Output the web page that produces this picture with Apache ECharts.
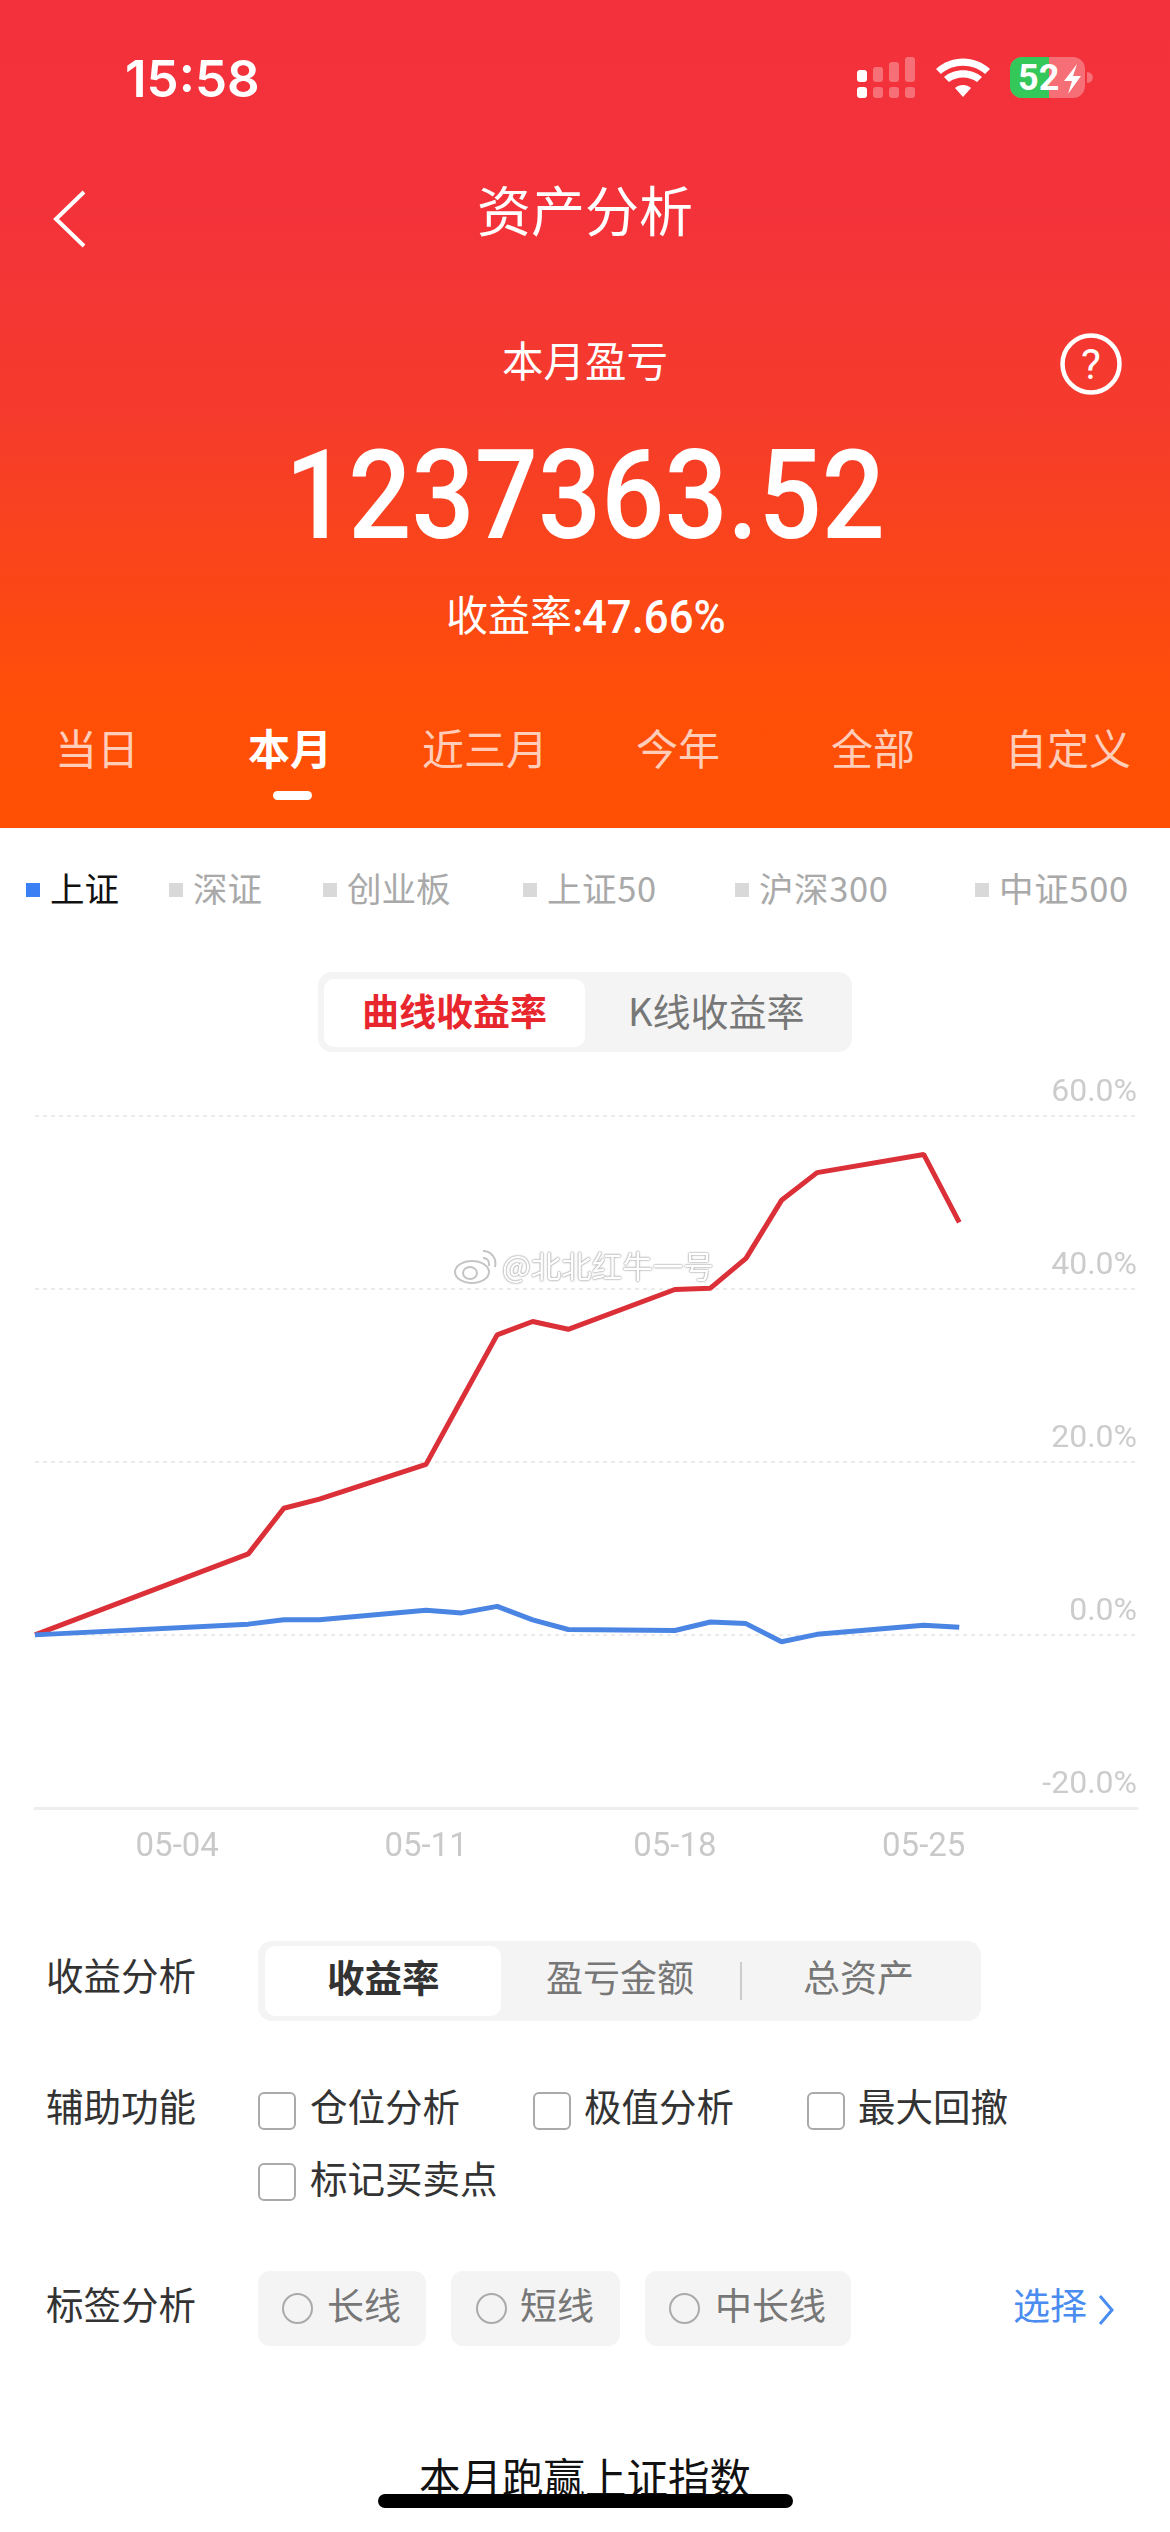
<!DOCTYPE html>
<html>
<head>
<meta charset="utf-8">
<title>资产分析</title>
<script src="https://cdn.jsdelivr.net/npm/echarts@6/dist/echarts.min.js"></script>
<style>
html,body{margin:0;padding:0;background:#fff;}
#page{position:relative;width:1170px;height:2532px;overflow:hidden;background:#fff;font-family:"Noto Sans CJK SC",sans-serif;}
#head{position:absolute;left:0;top:0;width:1170px;height:828px;background:linear-gradient(180deg,#f3313c 0%,#f3323a 25%,#f53b2c 50%,#ff4f08 85%,#ff5003 100%);}
.t{position:absolute;white-space:nowrap;line-height:1;transform:translateY(calc(-50% - 3px));}
.c{position:absolute;white-space:nowrap;line-height:1;left:0;width:1170px;text-align:center;transform:translateY(calc(-50% - 3px));}
.w{color:#fff;}
.tab{color:rgba(255,255,255,.72);font-size:42px;}
.sq{position:absolute;width:14px;height:14px;background:#d9d9d9;top:883px;}
.leg{font-size:34.5px;color:#a9a9a9;top:890px;}
.box{position:absolute;background:#f4f4f4;border-radius:14px;}
.wht{position:absolute;background:#fff;border-radius:10px;}
.lab{font-size:37.5px;color:#333;}
.gry{font-size:37px;color:#777;}
.chk{position:absolute;width:34px;height:34px;border:2.5px solid #aaa;border-radius:6px;box-sizing:content-box;}
.rad{position:absolute;width:27px;height:27px;border:2.5px solid #aaa;border-radius:50%;top:2293px;}
#chart{position:absolute;left:0;top:1060px;width:1170px;height:840px;}
</style>
</head>
<body>
<div id="page">
  <div id="head"></div>

  <!-- 状态栏 -->
  <div style="position:absolute;left:125px;top:78px;line-height:1;transform:translateY(-50%);color:#fff;font-family:Inter;font-weight:600;font-size:51px;">15:58</div>
  <svg style="position:absolute;left:851px;top:50px;" width="319" height="56">
    <g fill="#fff">
      <rect x="6" y="20" width="10" height="12" rx="3"/><rect x="6" y="37" width="10" height="11" rx="3"/>
      <g opacity=".3">
        <rect x="22" y="17" width="10" height="15" rx="3"/><rect x="22" y="37" width="10" height="11" rx="3"/>
        <rect x="38" y="12" width="10" height="20" rx="3"/><rect x="38" y="37" width="10" height="11" rx="3"/>
        <rect x="54" y="7" width="10" height="25" rx="3"/><rect x="54" y="37" width="10" height="11" rx="3"/>
      </g>
      <path d="M111 46l-8-9c4-4 12-4 16 0zM97 31l-5-5c10-9 28-9 38 0l-5 5c-8-6-20-6-28 0zM89 23l-5-5c15-14 39-14 54 0l-5 5c-12-11-32-11-44 0z" transform="translate(1,1)"/>
    </g>
    <rect x="159" y="7" width="75" height="41" rx="12" fill="#fff" fill-opacity=".3"/>
    <path d="M198 7h-27a12 12 0 0 0-12 12v17a12 12 0 0 0 12 12h27z" fill="#34c759"/>
    <path d="M236 22a6 6 0 0 1 6 5.500a6 6 0 0 1-6 5.500z" fill="#fff" fill-opacity=".3"/>
    <text x="167" y="40" font-family="Roboto" font-weight="700" font-size="36" fill="#fff">52</text>
    <path d="M226 14l-13 17h8l-4 13 13-18h-8z" fill="#fff"/>
  </svg>

  <!-- 标题栏 -->
  <svg style="position:absolute;left:48px;top:185px;" width="44" height="68"><polyline points="36,7 8,34 36,61" fill="none" stroke="#fff" stroke-width="4"/></svg>
  <div class="c w" style="top:212px;font-size:54px;">资产分析</div>
  <div class="c w" style="top:363px;font-size:41.5px;">本月盈亏</div>
  <svg style="position:absolute;left:1059px;top:332px;" width="64" height="64"><circle cx="32" cy="32" r="28.500" fill="none" stroke="#fff" stroke-width="4.500"/><text x="32" y="47" text-anchor="middle" font-family="Roboto" font-size="42" fill="#fff">?</text></svg>
  <div style="position:absolute;left:0;width:1170px;text-align:center;top:495px;line-height:1;color:#fff;font-family:Roboto;font-weight:500;font-size:125px;transform:translateY(-50%) scaleX(.89);">1237363.52</div>
  <div class="t w" style="left:446px;top:616px;font-size:42px;">收益率:</div>
  <div style="position:absolute;left:582px;top:616px;line-height:1;color:#fff;font-family:Roboto;font-weight:500;font-size:47px;transform-origin:left center;transform:translateY(-50%) scaleX(.93);">47.66%</div>

  <!-- 时间段 -->
  <div class="t tab" style="left:55px;top:750px;">当日</div>
  <div class="t tab" style="left:248px;top:750px;color:#fff;font-weight:700;">本月</div>
  <div class="t tab" style="left:422px;top:750px;">近三月</div>
  <div class="t tab" style="left:636px;top:750px;">今年</div>
  <div class="t tab" style="left:831px;top:750px;">全部</div>
  <div class="t tab" style="left:1005px;top:750px;">自定义</div>
  <div style="position:absolute;left:273px;top:791px;width:39px;height:9px;border-radius:5px;background:#fff;"></div>

  <!-- 指数选择 -->
  <div class="sq" style="left:26px;background:#3b7ff5;"></div><div class="t leg" style="left:50px;color:#111;">上证</div>
  <div class="sq" style="left:169px;"></div><div class="t leg" style="left:193px;">深证</div>
  <div class="sq" style="left:323px;"></div><div class="t leg" style="left:347px;">创业板</div>
  <div class="sq" style="left:523px;"></div><div class="t leg" style="left:547px;letter-spacing:.6px;">上证50</div>
  <div class="sq" style="left:735px;"></div><div class="t leg" style="left:759px;letter-spacing:.6px;">沪深300</div>
  <div class="sq" style="left:975px;"></div><div class="t leg" style="left:999px;letter-spacing:.7px;">中证500</div>

  <!-- 曲线/K线切换 -->
  <div class="box" style="left:318px;top:972px;width:534px;height:80px;"></div>
  <div class="wht" style="left:324px;top:979px;width:261px;height:68px;"></div>
  <div class="t" style="left:362px;top:1013px;font-size:37px;font-weight:700;color:#e8262e;">曲线收益率</div>
  <div class="t" style="left:628px;top:1013px;font-size:38px;color:#777;">K线收益率</div>

  <div id="chart"></div>

  <!-- 水印 -->
  <svg style="position:absolute;left:453px;top:1247px;" width="50" height="38"><g fill="#fff" stroke="#c4c4c4" stroke-width="2"><ellipse cx="19" cy="25" rx="17" ry="11"/><ellipse cx="17" cy="26" rx="7" ry="6"/><path d="M30 4c8 0 14 7 12 16M30 11c4 0 7 3 6 8" fill="none"/></g></svg>
  <div class="t" style="left:502px;top:1268px;font-size:30.5px;color:#fff;text-shadow:0 0 2px #aaa,0 0 2px #aaa,0 0 1px #999;">@北北红牛一号</div>

  <!-- 收益分析 -->
  <div class="t lab" style="left:46px;top:1977px;">收益分析</div>
  <div class="box" style="left:258px;top:1941px;width:723px;height:80px;"></div>
  <div class="wht" style="left:265px;top:1946px;width:236px;height:70px;"></div>
  <div class="t lab" style="left:327px;top:1979px;font-weight:700;">收益率</div>
  <div class="t gry" style="left:546px;top:1979px;">盈亏金额</div>
  <div style="position:absolute;left:740px;top:1962px;width:2px;height:38px;background:#ccc;"></div>
  <div class="t gry" style="left:803px;top:1979px;">总资产</div>

  <!-- 辅助功能 -->
  <div class="t lab" style="left:46px;top:2108px;">辅助功能</div>
  <div class="chk" style="left:258px;top:2092px;"></div><div class="t lab" style="left:310px;top:2108px;">仓位分析</div>
  <div class="chk" style="left:533px;top:2092px;"></div><div class="t lab" style="left:584px;top:2108px;">极值分析</div>
  <div class="chk" style="left:807px;top:2092px;"></div><div class="t lab" style="left:858px;top:2108px;">最大回撤</div>
  <div class="chk" style="left:258px;top:2163px;"></div><div class="t lab" style="left:310px;top:2180px;">标记买卖点</div>

  <!-- 标签分析 -->
  <div class="t lab" style="left:46px;top:2306px;">标签分析</div>
  <div class="box" style="left:258px;top:2271px;width:168px;height:75px;border-radius:12px;"></div>
  <div class="box" style="left:451px;top:2271px;width:169px;height:75px;border-radius:12px;"></div>
  <div class="box" style="left:645px;top:2271px;width:206px;height:75px;border-radius:12px;"></div>
  <div class="rad" style="left:282px;"></div><div class="t gry" style="left:327px;top:2307px;">长线</div>
  <div class="rad" style="left:476px;"></div><div class="t gry" style="left:520px;top:2307px;">短线</div>
  <div class="rad" style="left:669px;"></div><div class="t gry" style="left:715px;top:2307px;">中长线</div>
  <div class="t" style="left:1013px;top:2307px;font-size:37px;color:#4a8cf0;">选择</div>
  <svg style="position:absolute;left:1094px;top:2292px;" width="24" height="36"><polyline points="6,4 18,18 6,32" fill="none" stroke="#4a8cf0" stroke-width="3"/></svg>

  <div class="c" style="top:2480px;font-size:41.5px;color:#111;">本月跑赢上证指数</div>
  <div style="position:absolute;left:378px;top:2494px;width:415px;height:14px;border-radius:7px;background:#000;"></div>
</div>

<script>
// 日期轴,每天一格,没有交易的日子留空
var dates = ['04-30','05-01','05-02','05-03','05-04','05-05','05-06','05-07','05-08','05-09','05-10',
             '05-11','05-12','05-13','05-14','05-15','05-16','05-17','05-18','05-19','05-20','05-21',
             '05-22','05-23','05-24','05-25','05-26','05-27','05-28','05-29','05-30','05-31'];
var labelDates = ['05-04','05-11','05-18','05-25'];
var myReturn = [0,null,null,null,null,null,9.36,14.63,15.69,null,null,
                19.7,27.2,34.66,36.2,35.3,null,null,39.9,40.05,43.5,50.2,
                53.4,null,null,55.5,47.66,null,null,null,null,null];
var szReturn = [0,null,null,null,null,null,1.24,1.74,1.74,null,null,
                2.85,2.54,3.29,1.74,0.62,null,null,0.5,1.49,1.3,-0.8,
                0.06,null,null,1.12,0.87,null,null,null,null,null];

var myChart = echarts.init(document.getElementById('chart'));

var option = {
    animation: false,
    grid: { left: 35, right: 33, top: 55.5, height: 692.5 },
    xAxis: {
        type: 'category',
        data: dates,
        boundaryGap: false,
        axisLine: { onZero: false, lineStyle: { color: '#eeeeee', width: 3 } },
        axisTick: { show: false },
        splitLine: { show: false },
        axisLabel: {
            color: '#c9c9c9',
            fontFamily: 'Roboto',
            fontSize: 33,
            margin: 23,
            interval: function (index, value) { return labelDates.indexOf(value) > -1; }
        }
    },
    yAxis: {
        type: 'value',
        position: 'right',
        min: -20,
        max: 60,
        interval: 20,
        axisLine: { show: false },
        axisTick: { show: false },
        splitLine: { lineStyle: { color: '#ebebeb', type: [4, 4], width: 2 } },
        axisLabel: {
            inside: true,
            margin: 0,
            color: '#cccccc',
            fontFamily: 'Roboto',
            fontSize: 32,
            verticalAlign: 'bottom',
            padding: [0, 0, 7, 0],
            formatter: function (v) { return v.toFixed(1) + '%'; }
        }
    },
    series: [{
        name: '收益率',
        type: 'line',
        data: myReturn,
        connectNulls: true,
        symbol: 'none',
        z: 3,
        lineStyle: { color: '#dc3039', width: 5 }
    }, {
        name: '上证',
        type: 'line',
        data: szReturn,
        connectNulls: true,
        symbol: 'none',
        z: 4,
        lineStyle: { color: '#4a85e4', width: 5 }
    }]
};

myChart.setOption(option);
</script>
</body>
</html>
